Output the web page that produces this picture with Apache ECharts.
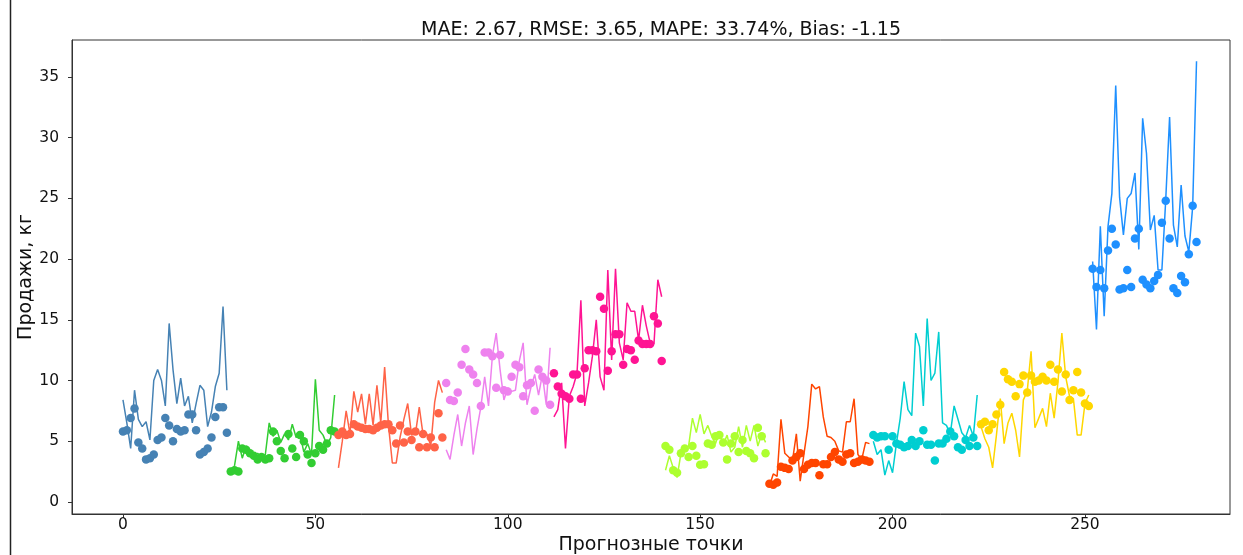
<!DOCTYPE html>
<html>
<head>
<meta charset="utf-8">
<script src="https://cdn.jsdelivr.net/npm/echarts@6/dist/echarts.min.js"></script>
<style>
  html, body { margin: 0; padding: 0; background: #fff; }
  #chart { width: 1243px; height: 555px; }
</style>
</head>
<body>
<div id="chart"></div>
<script>
// Forecast evaluation: actual sales (lines) vs. model forecast (dots), one colour per product block
const titleText = 'MAE: 2.67, RMSE: 3.65, MAPE: 33.74%, Bias: -1.15';
const xTicks = [0, 50, 100, 150, 200, 250];
const yTicks = [0, 5, 10, 15, 20, 25, 30, 35];

// first forecast-point index of each block
const blockStarts = [0, 28, 56, 84, 112, 141, 168, 195, 223, 252];
const blockColors = ['#4682b4', '#32cd32', '#ff6347', '#ee82ee', '#ff1493',
                     '#adff2f', '#ff4500', '#00ced1', '#ffd700', '#1e90ff'];

const actual1 = [8.4, 6.5, 4.4, 9.2, 6.8, 6.2, 6.6, 5.1, 10.0, 10.9, 10.0, 7.9, 14.7, 10.9, 8.1, 10.2, 7.9, 8.7, 6.5, 8.1, 9.6, 9.2, 6.2, 7.4, 9.5, 10.6, 16.1, 9.2];
const forecast1 = [5.8, 5.9, 6.9, 7.7, 4.9, 4.4, 3.5, 3.6, 3.9, 5.1, 5.3, 6.9, 6.3, 5.0, 6.0, 5.8, 5.9, 7.2, 7.2, 5.9, 3.9, 4.1, 4.4, 5.3, 7.0, 7.8, 7.8, 5.7];

const actual2 = [2.3, 3.0, 5.0, 3.6, 4.6, 4.2, 3.8, 4.0, 3.7, 3.9, 6.5, 5.4, 5.9, 4.9, 5.6, 5.1, 6.4, 5.3, 5.6, 4.1, 4.8, 3.9, 10.1, 5.9, 5.5, 4.7, 5.3, 8.8];
const forecast2 = [2.5, 2.6, 2.5, 4.4, 4.3, 4.0, 3.8, 3.5, 3.7, 3.5, 3.6, 5.8, 5.0, 4.2, 3.6, 5.6, 4.4, 3.7, 5.5, 5.0, 3.9, 3.2, 4.0, 4.6, 4.3, 4.8, 5.9, 5.8];

const actual3 = [2.8, 5.0, 7.5, 5.6, 9.1, 7.4, 8.9, 6.4, 8.9, 6.3, 9.6, 6.5, 11.1, 6.3, 3.2, 3.2, 5.3, 6.8, 8.1, 5.5, 5.6, 7.8, 5.5, 5.6, 4.6, 8.2, 10.0, 9.0];
const forecast3 = [5.5, 5.8, 5.5, 5.6, 6.4, 6.2, 6.1, 6.0, 6.0, 5.9, 6.1, 6.3, 6.4, 6.4, 5.9, 4.8, 6.3, 4.9, 5.8, 5.1, 5.8, 4.5, 5.6, 4.5, 5.3, 4.5, 7.3, 5.3];

const actual4 = [4.3, 3.5, 5.5, 7.2, 4.6, 6.5, 7.9, 3.9, 6.0, 7.8, 10.3, 7.9, 12.0, 13.9, 10.9, 8.4, 9.4, 9.1, 9.2, 11.6, 13.1, 8.0, 9.4, 10.5, 8.8, 10.5, 8.0, 12.7];
const forecast4 = [9.8, 8.4, 8.3, 9.0, 11.3, 12.6, 10.9, 10.5, 9.8, 7.9, 12.3, 12.3, 12.0, 9.4, 12.1, 9.2, 9.1, 10.3, 11.3, 11.1, 8.7, 9.6, 9.8, 7.5, 10.9, 10.3, 10.0, 8.0];

const actual5 = [7.0, 7.6, 9.8, 4.4, 8.7, 9.5, 10.6, 16.6, 7.9, 9.8, 12.0, 15.0, 10.3, 9.2, 19.1, 11.7, 19.2, 13.1, 11.7, 16.4, 15.7, 15.7, 13.3, 16.2, 14.5, 13.1, 13.0, 18.3, 16.9];
const forecast5 = [10.6, 9.5, 8.9, 8.7, 8.5, 10.5, 10.5, 8.5, 11.0, 12.5, 12.5, 12.4, 16.9, 15.9, 10.8, 12.4, 13.8, 13.8, 11.3, 12.6, 12.5, 11.7, 13.3, 13.0, 13.0, 13.0, 15.3, 14.7, 11.6];

const actual6 = [2.6, 3.8, 2.8, 2.0, 4.0, 4.2, 4.6, 6.9, 5.7, 7.2, 5.6, 6.3, 5.4, 4.8, 5.8, 4.7, 5.5, 4.1, 4.5, 6.2, 4.5, 6.3, 5.0, 6.3, 4.6, 5.6, 4.9];
const forecast6 = [4.6, 4.3, 2.6, 2.4, 4.0, 4.4, 3.7, 4.6, 3.8, 3.05, 3.1, 4.8, 4.7, 5.4, 5.5, 4.9, 3.5, 4.8, 5.4, 4.1, 5.1, 4.2, 4.0, 3.6, 6.1, 5.4, 4.0];

const actual7 = [1.3, 2.3, 2.1, 6.8, 4.0, 3.7, 3.4, 5.6, 1.7, 4.0, 6.2, 9.7, 9.3, 9.5, 7.0, 5.4, 5.3, 5.0, 4.2, 4.1, 6.6, 6.6, 8.5, 3.9, 3.5, 4.9, 4.8];
const forecast7 = [1.5, 1.4, 1.6, 2.9, 2.8, 2.7, 3.4, 3.7, 4.0, 2.7, 3.05, 3.2, 3.2, 2.2, 3.1, 3.1, 3.7, 4.1, 3.5, 3.3, 3.9, 4.0, 3.2, 3.3, 3.5, 3.4, 3.3];

const actual8 = [5.0, 3.9, 4.3, 2.2, 3.4, 2.4, 4.8, 6.9, 9.9, 7.6, 7.1, 13.9, 12.8, 7.9, 15.1, 10.0, 10.6, 14.0, 6.5, 6.3, 5.6, 7.9, 6.8, 5.7, 5.3, 6.3, 5.4, 8.8];
const forecast8 = [5.5, 5.3, 5.4, 5.4, 4.3, 5.4, 4.8, 4.7, 4.5, 4.6, 5.1, 4.6, 5.0, 5.9, 4.7, 4.7, 3.4, 4.8, 4.8, 5.2, 5.8, 5.4, 4.5, 4.3, 5.1, 4.6, 5.3, 4.6];

const actual9 = [6.2, 5.2, 4.5, 2.8, 5.5, 8.5, 4.8, 6.5, 7.3, 5.9, 3.7, 8.4, 9.1, 12.4, 6.1, 6.9, 7.7, 6.2, 8.95, 6.9, 9.9, 13.9, 10.3, 8.7, 8.5, 5.5, 5.5, 8.1, 8.8];
const forecast9 = [6.4, 6.6, 5.9, 6.4, 7.2, 8.0, 10.7, 10.1, 9.9, 8.7, 9.7, 10.4, 9.0, 10.4, 9.9, 10.0, 10.3, 10.0, 11.3, 9.9, 10.9, 9.1, 10.5, 8.4, 9.2, 10.7, 9.0, 8.1, 7.9];

const actual10 = [19.8, 14.2, 22.7, 15.3, 22.7, 25.4, 34.3, 25.1, 22.0, 25.0, 25.4, 27.1, 20.8, 31.6, 28.7, 22.4, 23.6, 19.1, 19.1, 24.9, 31.7, 22.8, 21.0, 26.1, 21.9, 20.6, 24.3, 36.3];
const forecast10 = [19.2, 17.7, 19.1, 17.6, 20.7, 22.5, 21.2, 17.5, 17.6, 19.1, 17.7, 21.7, 22.5, 18.3, 17.9, 17.6, 18.2, 18.7, 23.0, 24.8, 21.7, 17.6, 17.2, 18.6, 18.1, 20.4, 24.4, 21.4];

const actualBlocks = [actual1, actual2, actual3, actual4, actual5, actual6, actual7, actual8, actual9, actual10];
const forecastBlocks = [forecast1, forecast2, forecast3, forecast4, forecast5, forecast6, forecast7, forecast8, forecast9, forecast10];

const FONT = '"DejaVu Sans", sans-serif';
const chart = echarts.init(document.getElementById('chart'), null, { renderer: 'canvas' });

const series = [];
actualBlocks.forEach((vals, b) => {
  const start = blockStarts[b];
  series.push({
    type: 'line',
    data: vals.map((v, i) => [start + i, v]),
    showSymbol: false,
    symbol: 'none',
    lineStyle: { color: blockColors[b], width: 1.5 },
    itemStyle: { color: blockColors[b] },
    animation: false,
    z: 2
  });
  series.push({
    type: 'scatter',
    data: forecastBlocks[b].map((v, i) => [start + i, v]),
    symbolSize: 8.5,
    itemStyle: { color: blockColors[b], opacity: 1 },
    animation: false,
    z: 3
  });
});

chart.setOption({
  backgroundColor: '#ffffff',
  animation: false,
  title: {
    text: titleText,
    left: 656,
    top: 16,
    textAlign: 'center',
    textStyle: { fontFamily: FONT, fontSize: 19, fontWeight: 'normal', color: '#111' }
  },
  grid: {
    left: 72, right: 13, top: 40, bottom: 41,
    show: true, borderColor: '#333', borderWidth: 1,
    outerBoundsMode: 'none'
  },
  xAxis: {
    type: 'value',
    min: -13.25, max: 287.7,
    name: 'Прогнозные точки',
    nameLocation: 'middle',
    nameGap: 22,
    nameMoveOverlap: false,
    nameTextStyle: { fontFamily: FONT, fontSize: 19, color: '#111' },
    axisLine: { show: true, onZero: false, lineStyle: { color: '#333', width: 1 } },
    axisTick: { show: true, length: 4, customValues: xTicks, lineStyle: { color: '#333' } },
    axisLabel: { customValues: xTicks, margin: 3, fontFamily: FONT, fontSize: 15.5, color: '#111' },
    splitLine: { show: false }
  },
  yAxis: {
    type: 'value',
    min: -1, max: 38.05,
    name: 'Продажи, кг',
    nameLocation: 'middle',
    nameGap: 36,
    nameMoveOverlap: false,
    nameTextStyle: { fontFamily: FONT, fontSize: 19, color: '#111' },
    axisLine: { show: true, onZero: false, lineStyle: { color: '#333', width: 1 } },
    axisTick: { show: true, length: 4, customValues: yTicks, lineStyle: { color: '#333' } },
    axisLabel: { customValues: yTicks, margin: 13, fontFamily: FONT, fontSize: 15.5, color: '#111' },
    splitLine: { show: false }
  },
  graphic: [{
    type: 'line',
    shape: { x1: 10.5, y1: 0, x2: 10.5, y2: 555 },
    style: { stroke: '#222', lineWidth: 1.5 },
    silent: true
  }],
  series: series
});
</script>
</body>
</html>
